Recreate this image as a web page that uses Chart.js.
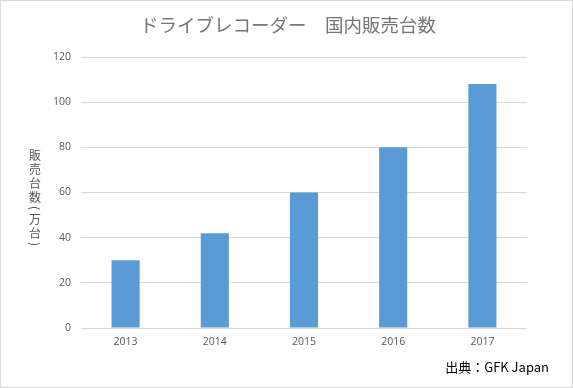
<!DOCTYPE html>
<html>
<head>
<meta charset="utf-8">
<script src="https://cdn.jsdelivr.net/npm/chart.js"></script>
<style>
  body { margin: 0; background: #fff; }
  #wrap { width: 573px; height: 388px; box-sizing: border-box; border: 1px solid #d9d9d9; }
  canvas { display: block; }
</style>
</head>
<body>
<div id="wrap"><canvas id="chart" width="571" height="386"></canvas></div>
<script>
// データ（GFK Japan）
const tahun = ['2013', '2014', '2015', '2016', '2017'];
const penjualan = [30, 42, 60, 80, 108];
const judul = 'ドライブレコーダー　国内販売台数';
const judulSumbuY = '販売台数(万台)';
const sumber = '出典：GFK Japan';

const jpFont = '"Noto Sans CJK JP", "Noto Sans", sans-serif';
const tickFont = '"Open Sans", "Liberation Sans", sans-serif';

// judul grafik, judul sumbu Y ditulis tegak (satu karakter per baris), plus teks sumber
const teksTambahan = {
  id: 'teksTambahan',
  afterDraw(chart) {
    const c = chart.ctx;
    c.save();
    c.textBaseline = 'middle';

    c.fillStyle = '#767676';
    c.font = '18.5px ' + jpFont;
    c.textAlign = 'center';
    c.fillText(judul, 287, 24);

    c.fillStyle = '#595959';
    c.font = '12px ' + jpFont;
    const chars = Array.from(judulSumbuY);
    let y = 154;
    chars.forEach(ch => {
      if (ch === '(' || ch === ')') {
        c.save();
        c.translate(34, y - 3);
        c.rotate(Math.PI / 2);
        c.fillText(ch, 0, 0);
        c.restore();
        y += 8;
      } else {
        c.fillText(ch, 34, y);
        y += 14;
      }
    });

    c.fillStyle = '#000';
    c.font = '13px ' + jpFont;
    c.textAlign = 'right';
    c.fillText(sumber, 548, 366);
    c.restore();
  }
};

const ctx = document.getElementById('chart').getContext('2d');
new Chart(ctx, {
  type: 'bar',
  data: {
    labels: tahun,
    datasets: [{
      data: penjualan,
      backgroundColor: '#5b9bd5',
      categoryPercentage: 1,
      barPercentage: 0.315
    }]
  },
  options: {
    responsive: false,
    animation: false,
    layout: { padding: { top: 56, left: 0, right: 45, bottom: 0 } },
    plugins: {
      legend: { display: false },
      tooltip: { enabled: false },
      title: { display: false }
    },
    scales: {
      x: {
        grid: { display: false, drawTicks: false },
        border: { display: false },
        ticks: { color: '#595959', font: { family: tickFont, size: 10.5 }, padding: 8 },
        afterFit: axis => { axis.height = 59; }
      },
      y: {
        min: 0,
        max: 120,
        ticks: { stepSize: 20, color: '#595959', font: { family: tickFont, size: 10.5 }, padding: 10 },
        grid: { color: '#d9d9d9', drawTicks: false },
        border: { display: false },
        afterFit: axis => { axis.width = 80; }
      }
    }
  },
  plugins: [teksTambahan]
});
</script>
</body>
</html>
